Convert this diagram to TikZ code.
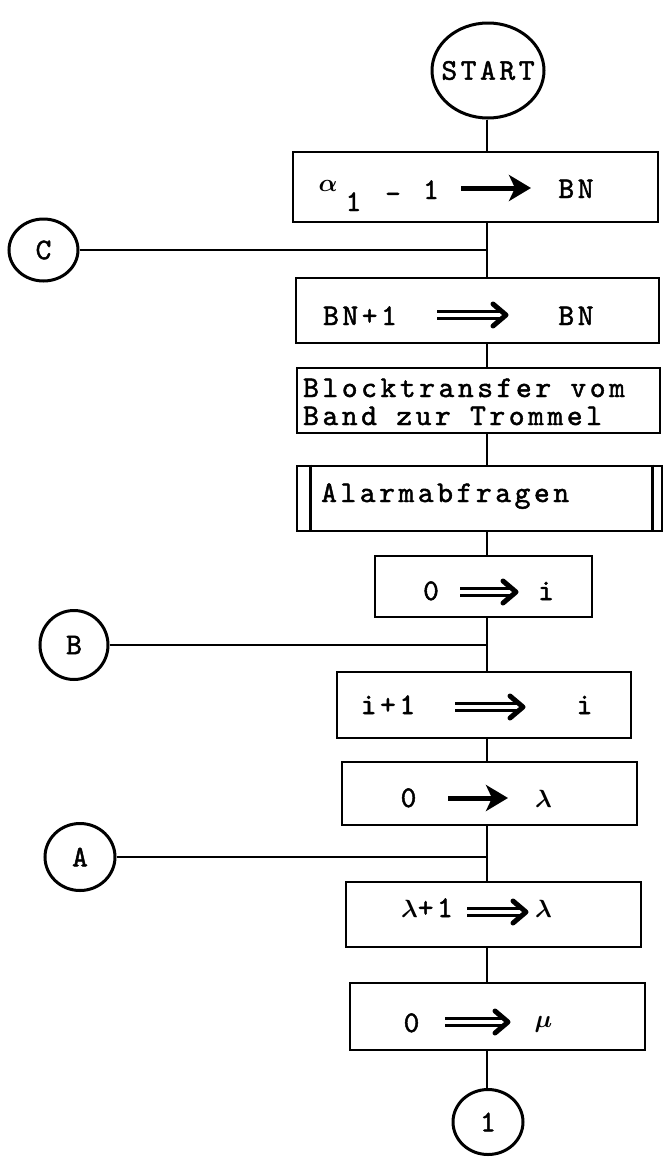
\documentclass[tikz,border=0pt]{standalone}
\usepackage{fontspec}
\newfontfamily\tw{lmmono10-regular.otf}[LetterSpace=12,FakeBold=1.6]
\usetikzlibrary{arrows.meta,shapes.geometric}
\begin{document}
\begin{tikzpicture}[x=1pt,y=-1pt,
  every node/.style={font=\tw\fontsize{30}{32}\selectfont, inner sep=0pt},
  box/.style={draw, rectangle, line width=2.8pt},
  term/.style={draw, ellipse, line width=3pt},
  conn/.style={line width=2.8pt},
  txt/.style={anchor=base},
  greek/.style={anchor=base, font=\fontsize{28}{28}\selectfont\boldmath},
  thickarr/.style={line width=5pt, -{Stealth[length=22pt,width=26pt,inset=6pt]}},
  pics/dblarr/.style={code={
    \draw[line width=2.6pt] (0,-3.5) -- (#1-8,-3.5) (0,3.5) -- (#1-8,3.5);
    \draw[line width=5pt, line join=round, line cap=round] (#1-15,-11) -- (#1-2,0) -- (#1-15,11);
  }}
]
\useasboundingbox (0,0) rectangle (665,1157);
\coordinate (ax) at (487,0);

% terminals
\node[term, minimum width=112pt, minimum height=95pt] (start) at (488,70.5) {\makebox[0pt]{START}};
\node[term, minimum width=69pt, minimum height=62pt] (C) at (43.5,250) {\makebox[0pt]{C}};
\node[term, minimum width=68pt, minimum height=69pt] (B) at (74,645) {\makebox[0pt]{\raisebox{-6pt}{B}}};
\node[term, minimum width=70pt, minimum height=67pt] (A) at (80,857) {\makebox[0pt]{\raisebox{-4pt}{A}}};
\node[term, minimum width=70pt, minimum height=65pt] (one) at (488,1122) {\makebox[0pt]{1}};

% boxes
\node[box, minimum width=365pt, minimum height=70pt] (b1) at (475.5,187) {};
\node[box, minimum width=363pt, minimum height=65pt] (b2) at (477.5,310.5) {};
\node[box, minimum width=363pt, minimum height=65pt] (b3) at (478.5,400.5) {};
\node[box, minimum width=365pt, minimum height=65pt] (b4) at (479.5,498.5) {};
\node[box, minimum width=217pt, minimum height=61pt] (b5) at (483.5,586.5) {};
\node[box, minimum width=294pt, minimum height=66pt] (b6) at (484,705) {};
\node[box, minimum width=295pt, minimum height=63pt] (b7) at (489.5,793.5) {};
\node[box, minimum width=295pt, minimum height=65pt] (b8) at (493.5,914.5) {};
\node[box, minimum width=295pt, minimum height=67pt] (b9) at (497.5,1016.5) {};

% predefined-process bars
\draw[line width=2.6pt] ([xshift=15pt]b4.north west) -- ([xshift=15pt]b4.south west);
\draw[line width=2.6pt] ([xshift=-11pt]b4.north east) -- ([xshift=-11pt]b4.south east);

% box texts
\node[anchor=base, font=\fontsize{26}{26}\selectfont\boldmath] (t1a) at (328,191) {$\alpha$};
\node[txt] (t1b) at (353.5,211) {1};
\node[txt] (t1c) at (393,203) {-};
\node[txt] (t1d) at (431,199) {1};
\draw[thickarr] (461,188) -- (531,188);
\node[txt] (t1e) at (576,198) {BN};

\node[txt] (t2a) at (360,325) {BN+1};
\pic at (437,315) {dblarr=71};
\node[txt] (t2b) at (576,325) {BN};

\node[anchor=base west] (t3a) at (303,397) {Blocktransfer vom};
\node[anchor=base west] (t3b) at (303,425) {Band zur Trommel};

\node[anchor=base west] (t4) at (321,502) {Alarmabfragen};

\node[txt] (t5a) at (431,600) {0};
\pic at (460,592) {dblarr=58};
\node[txt] (t5b) at (546,600) {i};

\node[txt] (t6a) at (388,714) {i+1};
\pic at (455,707) {dblarr=70};
\node[txt] (t6b) at (584.5,714) {i};

\node[txt] (t7a) at (408.5,807) {0};
\draw[thickarr] (448,798) -- (508,798);
\node[greek] (t7b) at (543.5,807) {$\lambda$};

\node[txt] (t8a) at (427,917) {{\boldmath$\lambda$}+1};
\pic at (467,912) {dblarr=61};
\node[greek] (t8b) at (543.5,917) {$\lambda$};

\node[txt] (t9a) at (411.5,1032) {0};
\pic at (445,1022) {dblarr=65};
\node[greek] (t9b) at (543.5,1027) {$\mu$};

% flow lines
\draw[conn] (start.south -| ax) -- (b1.north -| ax);
\draw[conn] (b1.south -| ax) -- (b2.north -| ax);
\draw[conn] (b2.south -| ax) -- (b3.north -| ax);
\draw[conn] (b3.south -| ax) -- (b4.north -| ax);
\draw[conn] (b4.south -| ax) -- (b5.north -| ax);
\draw[conn] (b5.south -| ax) -- (b6.north -| ax);
\draw[conn] (b6.south -| ax) -- (b7.north -| ax);
\draw[conn] (b7.south -| ax) -- (b8.north -| ax);
\draw[conn] (b8.south -| ax) -- (b9.north -| ax);
\draw[conn] (b9.south -| ax) -- (one.north -| ax);
\draw[conn] (C.east) -- (C.east -| ax);
\draw[conn] (B.east) -- (B.east -| ax);
\draw[conn] (A.east) -- (A.east -| ax);
\end{tikzpicture}
\end{document}
